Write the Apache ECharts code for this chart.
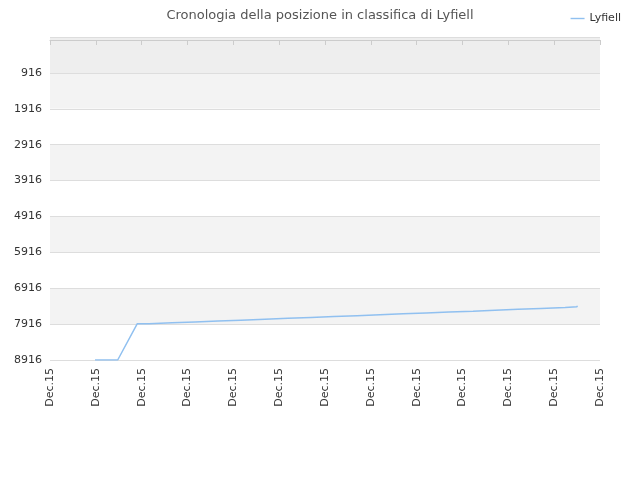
<!DOCTYPE html><html><head><meta charset="utf-8"><script src="https://cdn.jsdelivr.net/npm/echarts@6/dist/echarts.min.js"></script></head><body style="margin:0"><div id="c" style="width:640px;height:480px"></div><script>
const xLabels = ['Dec.15','Dec.15','Dec.15','Dec.15','Dec.15','Dec.15','Dec.15','Dec.15','Dec.15','Dec.15','Dec.15','Dec.15','Dec.15'];
const yTicks = [916,1916,2916,3916,4916,5916,6916,7916,8916];
const xs = [0.982,1.477,1.905,2.16,2.662,3.164,3.666,4.167,4.691,5.193,5.695,6.197,6.699,7.2,7.702,8.204,8.706,9.23,9.71,10.21,10.71,11.24,11.5];
const ranks = [8916,8916,7905,7880,7855,7830,7805,7780,7755,7730,7705,7680,7655,7630,7605,7580,7555,7530,7505,7480,7455,7430,7405];
const data = [];
for (let i=0;i<xs.length;i++){
  if (i>=3 && i<xs.length) data.push([xs[i], ranks[i-1]]);
  data.push([xs[i], ranks[i]]);
}
const chart = echarts.init(document.getElementById('c'));
chart.setOption({
  animation:false,
  title:{text:'Cronologia della posizione in classifica di Lyfiell',left:'center',top:4,textStyle:{fontSize:13,fontWeight:'normal',color:'#555',fontFamily:'DejaVu Sans'}},
  legend:{right:14,top:8,itemWidth:14,textStyle:{fontSize:11,color:'#333',fontFamily:'DejaVu Sans'},data:[{name:'Lyfiell',icon:'path://M0,5L10,5L10,6L0,6Z'}]},
  grid:{left:50,right:40,top:37,bottom:120},
  xAxis:{type:'value',min:0,max:12,interval:1,
    axisLine:{lineStyle:{color:'#ccc'}},axisTick:{show:true,lineStyle:{color:'#ccc'}},
    splitLine:{show:false},
    axisLabel:{rotate:90,fontSize:11,color:'#333',fontFamily:'DejaVu Sans',formatter:(v)=>xLabels[Math.round(v)]||''}},
  yAxis:{type:'value',inverse:true,min:-84,max:8916,interval:1000,
    axisLine:{show:false},axisTick:{show:false},
    splitLine:{lineStyle:{color:'#ddd'}},
    splitArea:{show:true,areaStyle:{color:['#eeeeee','#f3f3f3','#ffffff','#f3f3f3','#ffffff','#f3f3f3','#ffffff','#f3f3f3','#ffffff']}},
    axisLabel:{fontSize:11,color:'#333',fontFamily:'DejaVu Sans',formatter:(v)=>yTicks.includes(v)?String(v):''}},
  series:[{name:'Lyfiell',type:'line',data:data,showSymbol:false,lineStyle:{color:'#90c0f0',width:1.5},itemStyle:{color:'#90c0f0'}}]
});
</script></body></html>
